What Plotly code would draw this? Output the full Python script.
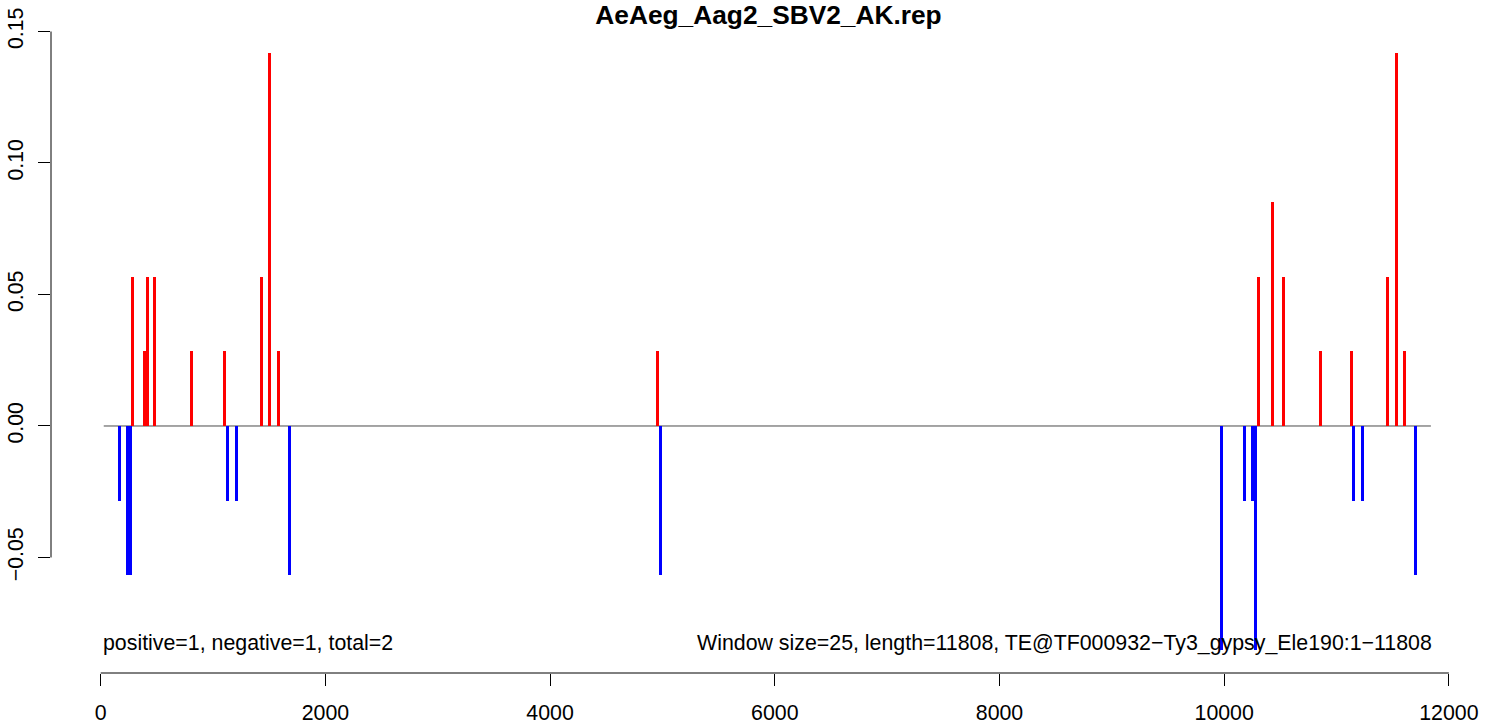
import plotly.graph_objects as go

U = 0.02836  # one read per window, normalised

title = "AeAeg_Aag2_SBV2_AK.rep"
pos_x = [287, 389, 414, 483, 812, 1106, 1435, 1506, 1586, 4955,
         10303, 10428, 10526, 10855, 11131, 11451, 11531, 11602]
pos_counts = [2, 1, 2, 2, 1, 1, 2, 5, 1, 1,
              2, 3, 2, 1, 1, 2, 5, 1]
neg_x = [163, 236, 261, 1132, 1212, 1684, 4981,
         9974, 10179, 10252, 10275, 11148, 11228, 11700]
neg_counts = [1, 2, 2, 1, 1, 2, 2,
              3, 1, 1, 3, 1, 1, 2]
pos_y = [c * U for c in pos_counts]
neg_y = [-c * U for c in neg_counts]

x_ticks = [0, 2000, 4000, 6000, 8000, 10000, 12000]
y_ticks = [-0.05, 0.0, 0.05, 0.10, 0.15]
y_ticktext = ["\u22120.05", "0.00", "0.05", "0.10", "0.15"]
bar_width = 27
left_note = "positive=1, negative=1, total=2"
right_note = "Window size=25, length=11808, TE@TF000932\u2212Ty3_gypsy_Ele190:1\u221211808"

FONT = "Liberation Sans, Arial, sans-serif"

fig = go.Figure()
fig.add_trace(go.Bar(x=pos_x, y=pos_y, width=bar_width, marker=dict(color="#ff0000", line=dict(width=0)),
                     showlegend=False, hoverinfo="x+y"))
fig.add_trace(go.Bar(x=neg_x, y=neg_y, width=bar_width, marker=dict(color="#0000ff", line=dict(width=0)),
                     showlegend=False, hoverinfo="x+y"))

shapes = [
    dict(type="line", xref="x", yref="y", x0=27, x1=11840, y0=0, y1=0,
         line=dict(color="#4a4a4a", width=1), layer="below"),
    dict(type="line", xref="paper", yref="y", x0=0, x1=0, y0=y_ticks[0], y1=y_ticks[-1],
         line=dict(color="black", width=1)),
    dict(type="line", xref="x", yref="paper", x0=x_ticks[0], x1=x_ticks[-1], y0=0, y1=0,
         line=dict(color="black", width=1)),
]

annotations = [
    dict(x=5, y=-0.0825, xref="x", yref="y", text=left_note, showarrow=False,
         xanchor="left", yanchor="middle", font=dict(family=FONT, size=21.35, color="black")),
    dict(x=11868, y=-0.0825, xref="x", yref="y", text=right_note, showarrow=False,
         xanchor="right", yanchor="middle", font=dict(family=FONT, size=21.35, color="black")),
]

fig.update_layout(
    width=1498, height=724,
    margin=dict(l=51, r=18, t=25, b=51, autoexpand=False),
    plot_bgcolor="white", paper_bgcolor="white",
    barmode="overlay", bargap=0,
    title=dict(text="<b>" + title + "</b>", x=(51 + 1480 + 6) / 2 / 1498, xanchor="center",
               y=1 - 15 / 724, yanchor="middle", yref="container",
               font=dict(family=FONT, size=26.3, color="black")),
    font=dict(family=FONT, size=21.35, color="black"),
    xaxis=dict(range=[-442.4, 12277], tickvals=x_ticks, ticktext=[str(v) for v in x_ticks],
               ticks="outside", ticklen=12, tickwidth=1, tickcolor="black",
               showline=False, showgrid=False, zeroline=False, automargin=False,
               tickfont=dict(family=FONT, size=21.35, color="black"), ticklabelstandoff=8),
    yaxis=dict(range=[-0.09392, 0.15247], tickvals=y_ticks, ticktext=y_ticktext,
               ticks="outside", ticklen=12, tickwidth=1, tickcolor="black",
               showline=False, showgrid=False, zeroline=False, tickangle=-90, automargin=False,
               tickfont=dict(family=FONT, size=21.35, color="black"), ticklabelstandoff=6),
    shapes=shapes,
    annotations=annotations,
)

fig.write_html("out.html", config={"displayModeBar": False},
               post_script="document.body.style.margin='0px';document.body.style.overflow='hidden';")
